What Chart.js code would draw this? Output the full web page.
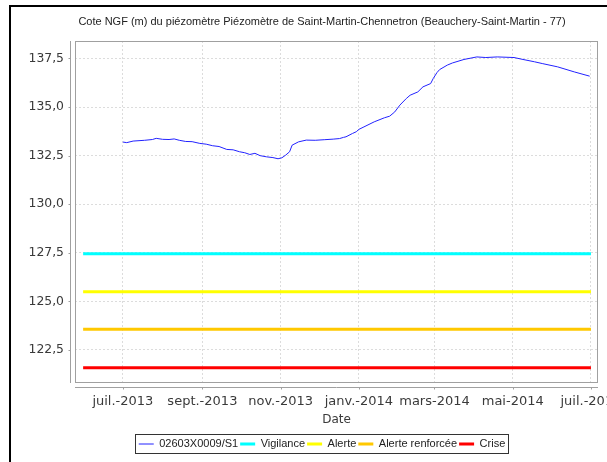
<!DOCTYPE html>
<html>
<head>
<meta charset="utf-8">
<script src="https://cdn.jsdelivr.net/npm/chart.js@4/dist/chart.umd.min.js"></script>
<style>
  html, body { margin: 0; padding: 0; background: #fff; overflow: hidden; }
  #frame { position: absolute; left: 9px; top: 5px; width: 800px; height: 600px;
           border-top: 2px solid #000; border-left: 2px solid #000; }
  #wrap { position: absolute; left: 0; top: 0; width: 607px; height: 462px; }
</style>
</head>
<body>
<div id="frame"></div>
<div id="wrap"><canvas id="chart"></canvas></div>
<script>
  const titleText = "Cote NGF (m) du piézomètre Piézomètre de Saint-Martin-Chennetron (Beauchery-Saint-Martin - 77)";
  const xTitle = "Date";

  // piezometer readings
  const levelDates = [
    "2013-07-01","2013-07-04","2013-07-09","2013-07-18","2013-07-24","2013-07-27","2013-08-01","2013-08-06",
    "2013-08-10","2013-08-14","2013-08-19","2013-08-24","2013-08-30","2013-09-04","2013-09-09","2013-09-14",
    "2013-09-20","2013-09-25","2013-09-30","2013-10-04","2013-10-08","2013-10-12","2013-10-16","2013-10-21",
    "2013-10-26","2013-10-30","2013-11-02","2013-11-05","2013-11-08","2013-11-10","2013-11-15","2013-11-21",
    "2013-11-28","2013-12-05","2013-12-12","2013-12-17","2013-12-20","2013-12-22","2013-12-27","2013-12-30",
    "2014-01-01","2014-01-05","2014-01-13","2014-01-21","2014-01-25","2014-01-29","2014-02-02","2014-02-07",
    "2014-02-10","2014-02-16","2014-02-20","2014-02-26","2014-02-28","2014-03-03","2014-03-05","2014-03-11",
    "2014-03-15","2014-03-24","2014-04-03","2014-04-10","2014-04-19","2014-05-02","2014-05-09","2014-05-18",
    "2014-05-24","2014-06-05","2014-06-18","2014-06-30"
  ];
  const levelValues = [
    133.20,133.17,133.25,133.29,133.33,133.39,133.34,133.33,
    133.36,133.29,133.23,133.22,133.13,133.09,133.01,132.97,
    132.82,132.80,132.70,132.65,132.56,132.62,132.50,132.44,
    132.40,132.34,132.39,132.53,132.70,133.04,133.21,133.30,
    133.29,133.32,133.35,133.38,133.44,133.47,133.64,133.73,
    133.85,133.98,134.24,134.45,134.53,134.75,135.10,135.44,
    135.61,135.78,136.04,136.21,136.47,136.78,136.93,137.16,
    137.27,137.45,137.58,137.55,137.58,137.55,137.45,137.33,
    137.24,137.07,136.81,136.59
  ];

  // alert thresholds
  const thresholdNames = ["Vigilance", "Alerte", "Alerte renforcée", "Crise"];
  const thresholdValues = [127.45, 125.5, 123.57, 121.58];
  const thresholdColors = ["#00ffff", "#ffff00", "#ffc800", "#ff0000"];
  const thresholdSpan = ["2013-05-31", "2014-07-01"];

  const seriesName = "02603X0009/S1";

  const xTickDates = ["2013-07-01","2013-09-01","2013-11-01","2014-01-01","2014-03-01","2014-05-01","2014-07-01"];
  const xTickLabels = ["juil.-2013","sept.-2013","nov.-2013","janv.-2014","mars-2014","mai-2014","juil.-2014"];
  const yTickValues = [122.5, 125, 127.5, 130, 132.5, 135, 137.5];

  const xMin = "2013-05-24T16:00:00Z";
  const xMax = "2014-07-06T12:00:00Z";

  const ms = s => Date.parse(s.length === 10 ? s + "T00:00:00Z" : s);

  const sans = '"Liberation Sans", Arial, sans-serif';
  const dejavu = '"DejaVu Sans", sans-serif';
  Chart.defaults.font.family = sans;

  const datasets = [{
    label: seriesName,
    data: levelDates.map((d, i) => ({ x: ms(d), y: levelValues[i] })),
    borderColor: "#2222ff",
    borderWidth: 1,
    pointRadius: 0,
    tension: 0
  }];
  thresholdNames.forEach((name, i) => {
    datasets.push({
      label: name,
      data: thresholdSpan.map(d => ({ x: ms(d), y: thresholdValues[i] })),
      borderColor: thresholdColors[i],
      borderWidth: 3,
      pointRadius: 0,
      tension: 0
    });
  });

  // plot outline, offset axis lines, legend frame
  const framePlugin = {
    id: "frames",
    afterLayout(chart) {
      // let the y labels spill left of the (narrow) y scale box without being clipped
      chart.scales.y.left = 12;
    },
    afterDraw(chart) {
      const { ctx, chartArea: a } = chart;
      ctx.save();
      ctx.lineWidth = 1;
      ctx.strokeStyle = "#a0a0a0";
      ctx.strokeRect(Math.round(a.left) + 0.5, Math.round(a.top) + 0.5,
        Math.round(a.right - a.left) - 1, Math.round(a.bottom - a.top) - 1);

      // y axis line
      const ax = Math.round(a.left) - 4.5;
      ctx.beginPath();
      ctx.moveTo(ax, a.top);
      ctx.lineTo(ax, a.bottom);
      chart.scales.y.ticks.forEach(t => {
        const py = Math.round(chart.scales.y.getPixelForValue(t.value)) + 0.5;
        ctx.moveTo(ax - 2, py);
        ctx.lineTo(ax, py);
      });
      // x axis line
      const ay = Math.round(a.bottom) + 4.5;
      ctx.moveTo(a.left, ay);
      ctx.lineTo(a.right, ay);
      chart.scales.x.ticks.forEach(t => {
        const px = Math.round(chart.scales.x.getPixelForValue(t.value)) + 0.5;
        ctx.moveTo(px, ay);
        ctx.lineTo(px, ay + 2);
      });
      ctx.stroke();

      const boxes = chart.legend.legendHitBoxes;
      if (boxes && boxes.length) {
        const left = Math.min(...boxes.map(b => b.left));
        const right = Math.max(...boxes.map(b => b.left + b.width));
        const top = boxes[0].top;
        ctx.strokeStyle = "#333";
        ctx.strokeRect(Math.round(left) - 3.5, Math.round(top) - 4.5, Math.round(right - left) + 6, 19);
      }
      ctx.restore();
    }
  };

  new Chart(document.getElementById("chart"), {
    type: "line",
    data: { datasets },
    plugins: [framePlugin],
    options: {
      responsive: true,
      maintainAspectRatio: false,
      animation: false,
      devicePixelRatio: 1,
      layout: { padding: { left: 46, right: 9, top: 0, bottom: 2.5 } },
      plugins: {
        title: {
          display: true,
          text: titleText,
          color: "#222",
          font: { size: 11, weight: "normal" },
          padding: { top: 15, bottom: 12.8 }
        },
        legend: {
          position: "bottom",
          labels: {
            color: "#222",
            font: { size: 11 },
            usePointStyle: true,
            pointStyle: "line",
            pointStyleWidth: 15,
            padding: 2
          }
        },
        tooltip: { enabled: false }
      },
      scales: {
        x: {
          type: "linear",
          min: ms(xMin),
          max: ms(xMax),
          afterBuildTicks: s => { s.ticks = xTickDates.map(d => ({ value: ms(d) })); },
          afterFit: s => { s.height = 53.5; s.paddingLeft = 0; s.paddingRight = 0; },
          ticks: {
            callback: (v, i) => xTickLabels[i],
            autoSkip: false,
            maxRotation: 0,
            color: "#3a3a3a",
            font: { size: 13, family: dejavu },
            padding: 11
          },
          grid: { color: "#dcdcdc", drawTicks: false },
          border: { display: false, dash: [2, 2] },
          title: { display: true, text: xTitle, color: "#3a3a3a", font: { size: 12, family: dejavu }, padding: { top: 0, bottom: 9.5 } }
        },
        y: {
          type: "linear",
          min: 120.8,
          max: 138.4,
          afterBuildTicks: s => { s.ticks = yTickValues.map(v => ({ value: v })); },
          afterFit: s => { s.width = 29; s.paddingTop = 0; s.paddingBottom = 0; },
          ticks: {
            callback: v => v.toFixed(1).replace(".", ","),
            color: "#3a3a3a",
            font: { size: 12.4, family: dejavu },
            padding: 11
          },
          grid: { color: "#dcdcdc", drawTicks: false },
          border: { display: false, dash: [2, 2] }
        }
      }
    }
  });
</script>
</body>
</html>
